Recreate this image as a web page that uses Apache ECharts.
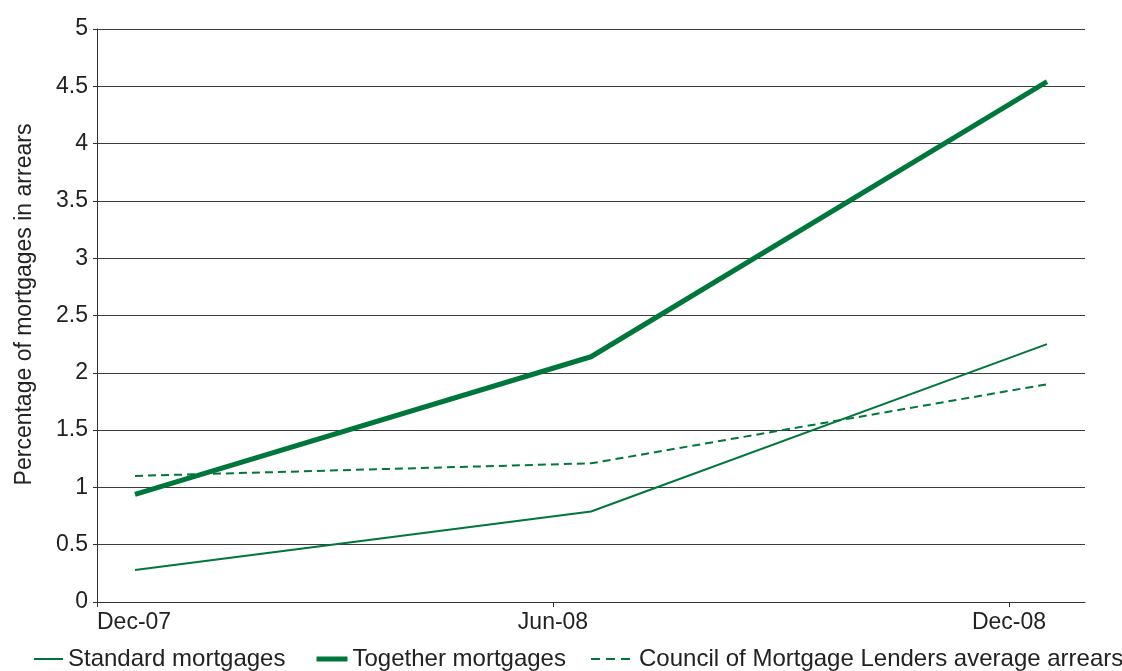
<!DOCTYPE html>
<html>
<head>
<meta charset="utf-8">
<script src="https://cdn.jsdelivr.net/npm/echarts@6/dist/echarts.min.js"></script>
<style>
html,body{margin:0;padding:0;background:#fff;}
#chart{width:1122px;height:671px;}
</style>
</head>
<body>
<div id="chart"></div>
<script>
// x positions in months after Dec-07 (points sit mid-month)
var xPositions = [0.5, 6.5, 12.5];
var tickMonths = [0, 6, 12];
var tickLabels = ['Dec-07', 'Jun-08', 'Dec-08'];
var standardValues = [0.28, 0.79, 2.25];
var togetherValues = [0.94, 2.14, 4.54];
var cmlValues = [1.10, 1.21, 1.90];
var seriesNames = ['Standard mortgages', 'Together mortgages', 'Council of Mortgage Lenders average arrears'];

function pairs(vals) {
  return xPositions.map(function (x, i) { return [x, vals[i]]; });
}

var green = '#00773a';
var font = 'Liberation Sans, Arial, Helvetica, sans-serif';
var chart = echarts.init(document.getElementById('chart'));

var legendBase = {
  bottom: 0,
  padding: 0,
  itemHeight: 14,
  itemStyle: { opacity: 0 },
  textStyle: { fontFamily: font, fontSize: 24, color: '#222' },
  selectedMode: false
};

chart.setOption({
  animation: false,
  grid: { left: 97, right: 37, top: 29, bottom: 69, containLabel: false, outerBoundsMode: 'none' },
  legend: [
    Object.assign({}, legendBase, { left: 33, itemWidth: 29, lineStyle: { width: 2 }, data: [seriesNames[0]] }),
    Object.assign({}, legendBase, { left: 314, itemWidth: 31, lineStyle: { width: 5 }, data: [seriesNames[1]] }),
    Object.assign({}, legendBase, { left: 590, itemWidth: 43, lineStyle: { width: 2, type: [9, 6] }, data: [seriesNames[2]] })
  ],
  xAxis: {
    type: 'value',
    min: 0,
    max: 13,
    interval: 6,
    splitLine: { show: false },
    axisLine: { show: true, lineStyle: { color: '#333', width: 1 } },
    axisTick: { show: true, length: 5, lineStyle: { color: '#333' }, customValues: tickMonths },
    axisLabel: {
      customValues: tickMonths,
      alignMinLabel: 'left',
      margin: 9,
      fontFamily: font, fontSize: 23, color: '#222',
      formatter: function (v) {
        var i = tickMonths.indexOf(v);
        return i >= 0 ? tickLabels[i] : '';
      }
    }
  },
  yAxis: {
    type: 'value',
    min: 0,
    max: 5,
    interval: 0.5,
    name: 'Percentage of mortgages in arrears',
    nameLocation: 'middle',
    nameGap: 61,
    nameTextStyle: { fontFamily: font, fontSize: 23, color: '#222', padding: [0, 0, 0, 22] },
    axisLine: { show: true, lineStyle: { color: '#333', width: 1 } },
    axisTick: { show: true, length: 4, lineStyle: { color: '#333' } },
    axisLabel: { margin: 9, fontFamily: font, fontSize: 23, color: '#222' },
    splitLine: { show: true, lineStyle: { color: '#3c3c3c', width: 1 } }
  },
  series: [
    {
      name: seriesNames[0], type: 'line', data: pairs(standardValues),
      symbol: 'none', lineStyle: { color: green, width: 2 }, itemStyle: { color: green }
    },
    {
      name: seriesNames[1], type: 'line', data: pairs(togetherValues),
      symbol: 'none', lineStyle: { color: green, width: 5 }, itemStyle: { color: green }
    },
    {
      name: seriesNames[2], type: 'line', data: pairs(cmlValues),
      symbol: 'none', lineStyle: { color: green, width: 2, type: [8, 5] }, itemStyle: { color: green }
    }
  ]
});
</script>
</body>
</html>
